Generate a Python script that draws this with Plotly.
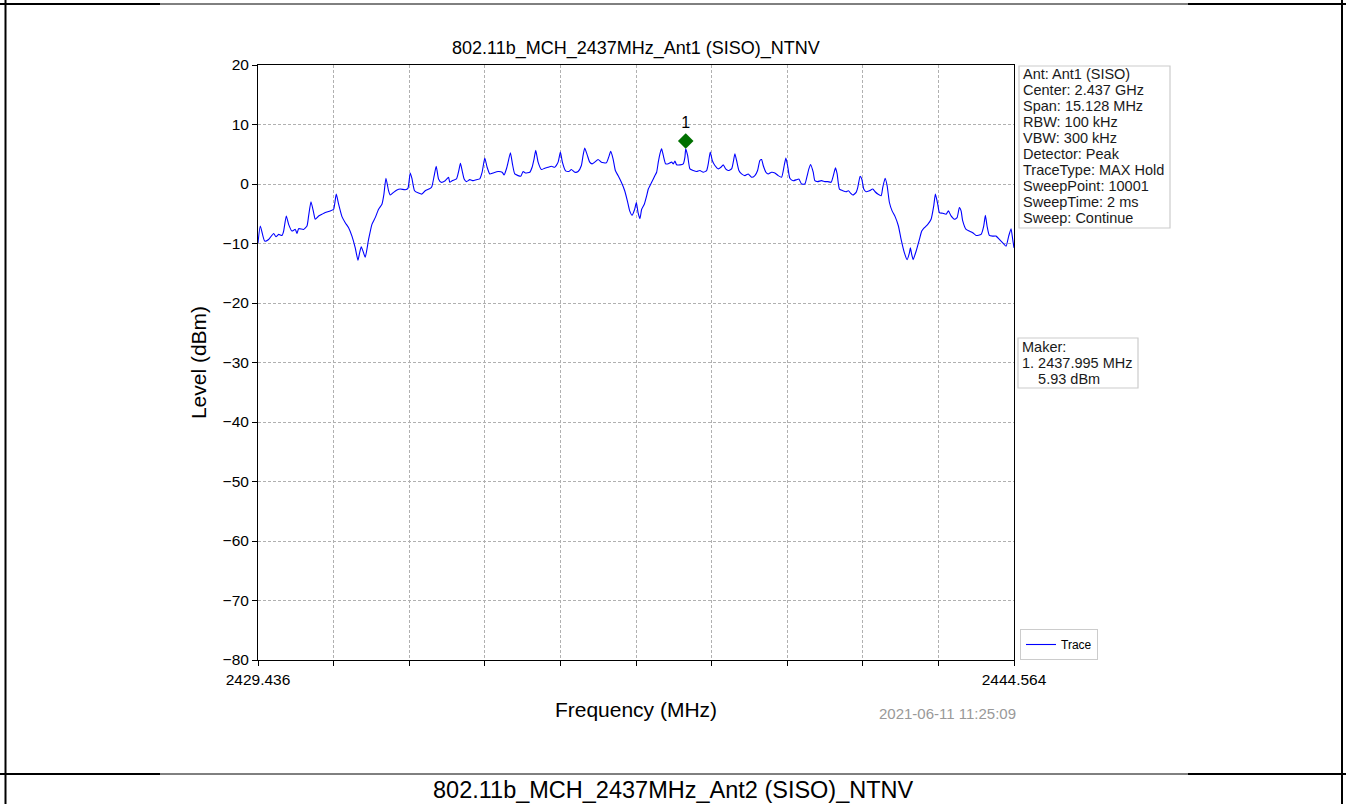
import plotly.graph_objects as go

# ---------------- data ----------------
freq_mhz = [
    2429.436, 2429.482, 2429.569, 2429.649, 2429.749, 2429.796, 2429.849, 2429.916, 2429.949, 2430.002,
    2430.049, 2430.116, 2430.182, 2430.216, 2430.249, 2430.349, 2430.416, 2430.449, 2430.496, 2430.549,
    2430.582, 2430.649, 2430.716, 2430.782, 2430.882, 2430.949, 2431.002, 2431.049, 2431.116, 2431.182,
    2431.249, 2431.316, 2431.382, 2431.436, 2431.469, 2431.502, 2431.549, 2431.582, 2431.649, 2431.716,
    2431.782, 2431.849, 2431.916, 2431.956, 2431.996, 2432.049, 2432.082, 2432.149, 2432.216, 2432.282,
    2432.382, 2432.436, 2432.482, 2432.516, 2432.569, 2432.649, 2432.716, 2432.782, 2432.882, 2432.916,
    2432.962, 2433.002, 2433.049, 2433.102, 2433.182, 2433.249, 2433.274, 2433.321, 2433.407, 2433.454,
    2433.487, 2433.521, 2433.561, 2433.607, 2433.674, 2433.741, 2433.807, 2433.874, 2433.921, 2433.974,
    2434.021, 2434.074, 2434.141, 2434.241, 2434.321, 2434.361, 2434.407, 2434.441, 2434.487, 2434.527,
    2434.574, 2434.641, 2434.694, 2434.741, 2434.787, 2434.874, 2434.921, 2434.961, 2434.994, 2435.041,
    2435.107, 2435.174, 2435.241, 2435.307, 2435.374, 2435.441, 2435.487, 2435.527, 2435.587, 2435.654,
    2435.707, 2435.774, 2435.841, 2435.907, 2435.941, 2435.974, 2436.027, 2436.074, 2436.121, 2436.174,
    2436.241, 2436.307, 2436.407, 2436.454, 2436.494, 2436.541, 2436.587, 2436.641, 2436.707, 2436.774,
    2436.827, 2436.874, 2436.921, 2436.974, 2437.007, 2437.041, 2437.079, 2437.113, 2437.166, 2437.213,
    2437.246, 2437.279, 2437.313, 2437.379, 2437.413, 2437.446, 2437.479, 2437.513, 2437.546, 2437.593,
    2437.646, 2437.713, 2437.746, 2437.779, 2437.813, 2437.879, 2437.946, 2437.979, 2437.995, 2438.033,
    2438.079, 2438.146, 2438.213, 2438.279, 2438.346, 2438.413, 2438.446, 2438.486, 2438.526, 2438.579,
    2438.646, 2438.699, 2438.746, 2438.793, 2438.846, 2438.913, 2438.946, 2438.979, 2439.013, 2439.059,
    2439.113, 2439.179, 2439.246, 2439.313, 2439.379, 2439.433, 2439.479, 2439.513, 2439.546, 2439.599,
    2439.646, 2439.713, 2439.779, 2439.846, 2439.913, 2439.966, 2439.999, 2440.033, 2440.079, 2440.146,
    2440.213, 2440.259, 2440.313, 2440.379, 2440.426, 2440.459, 2440.493, 2440.546, 2440.579, 2440.633,
    2440.713, 2440.779, 2440.838, 2440.905, 2440.958, 2440.991, 2441.025, 2441.071, 2441.138, 2441.205,
    2441.251, 2441.291, 2441.338, 2441.405, 2441.438, 2441.485, 2441.518, 2441.558, 2441.605, 2441.671,
    2441.738, 2441.785, 2441.838, 2441.905, 2441.938, 2441.985, 2442.025, 2442.071, 2442.125, 2442.185,
    2442.251, 2442.305, 2442.371, 2442.425, 2442.471, 2442.491, 2442.518, 2442.545, 2442.605, 2442.671,
    2442.718, 2442.771, 2442.838, 2442.905, 2442.958, 2442.991, 2443.038, 2443.071, 2443.138, 2443.205,
    2443.251, 2443.305, 2443.371, 2443.425, 2443.471, 2443.505, 2443.538, 2443.605, 2443.671, 2443.738,
    2443.805, 2443.905, 2443.958, 2443.991, 2444.025, 2444.071, 2444.138, 2444.205, 2444.271, 2444.338,
    2444.405, 2444.458, 2444.505, 2444.538, 2444.564,
]

level_dbm = [
    -9.90, -7.06, -9.60, -9.32, -8.31, -8.87, -8.47, -8.64, -7.91, -5.37,
    -6.78, -7.91, -7.63, -8.31, -7.51, -7.63, -7.06, -5.37, -2.99, -4.80,
    -5.93, -5.37, -5.08, -4.80, -4.52, -4.24, -1.69, -3.39, -5.48, -6.50,
    -7.34, -8.76, -10.73, -12.82, -11.58, -10.56, -11.58, -12.32, -9.32, -6.78,
    -5.65, -4.24, -3.39, -1.69, 0.96, -1.13, -1.86, -1.41, -1.02, -0.85,
    -0.96, -0.73, 1.86, 0.96, -1.13, -1.53, -1.69, -1.13, -0.73, -0.40,
    1.41, 2.99, 0.85, 0.28, 0.56, 1.13, 0.28, 0.56, 0.85, 2.26,
    3.50, 2.26, 0.85, 0.40, 0.73, 0.56, 0.73, 0.85, 1.98, 4.35,
    2.82, 1.69, 1.86, 2.09, 1.98, 1.53, 2.54, 3.67, 5.25, 3.39,
    1.69, 1.41, 1.30, 2.09, 1.86, 1.98, 2.82, 4.24, 5.65, 3.67,
    2.43, 2.66, 2.82, 2.99, 2.82, 3.67, 5.37, 3.67, 2.26, 2.09,
    2.43, 1.98, 2.09, 3.11, 4.80, 6.05, 4.80, 3.67, 3.39, 3.67,
    4.12, 3.67, 3.56, 4.52, 5.48, 4.24, 2.26, 1.41, 0.28, -1.13,
    -2.82, -4.52, -5.25, -4.24, -3.11, -4.80, -5.82, -4.24, -3.39, -1.98,
    -0.85, -0.28, 0.28, 1.41, 1.98, 3.67, 5.08, 5.93, 4.80, 3.39,
    3.39, 3.67, 3.39, 3.84, 3.22, 3.22, 3.39, 4.52, 5.93, 4.80,
    2.54, 2.26, 2.09, 2.26, 1.98, 2.26, 3.39, 5.37, 3.95, 3.11,
    2.54, 2.82, 3.22, 2.54, 2.26, 2.54, 3.67, 5.08, 3.95, 2.26,
    1.69, 1.41, 1.69, 1.13, 1.41, 2.26, 3.95, 4.12, 3.11, 1.98,
    1.69, 1.98, 1.86, 1.41, 1.13, 3.11, 4.35, 3.11, 0.96, 0.56,
    0.73, 0.85, 0.00, 0.00, 1.41, 2.54, 3.28, 1.98, 0.56, 0.40,
    0.56, 0.40, 0.40, 0.28, 1.69, 2.71, 1.69, -0.85, -1.13, -1.30,
    -1.13, -1.53, -1.86, -1.41, -0.56, 1.30, 0.85, -0.85, -1.30, -1.13,
    -0.85, -1.30, -1.69, -1.98, -0.56, 0.96, -0.28, -3.11, -4.52, -5.48,
    -7.06, -9.32, -11.58, -12.71, -11.58, -10.73, -11.86, -12.71, -11.30, -9.32,
    -7.91, -7.34, -6.78, -5.93, -3.67, -1.69, -3.39, -4.80, -4.92, -5.08,
    -4.52, -5.37, -5.93, -5.65, -3.95, -4.52, -6.21, -7.63, -7.91, -8.19,
    -8.64, -8.47, -7.06, -5.25, -7.06, -8.64, -8.76, -8.76, -9.32, -9.89,
    -10.45, -8.76, -7.51, -9.32, -10.73,
]

x_start, x_stop = 2429.436, 2444.564
x_divisions = 10
y_ticks = [20, 10, 0, -10, -20, -30, -40, -50, -60, -70, -80]
y_tick_labels = ["20", "10", "0", "\u221210", "\u221220", "\u221230", "\u221240",
                 "\u221250", "\u221260", "\u221270", "\u221280"]

marker_freq = [2437.995]
marker_level = [5.93]
marker_labels = ["1"]

title_text = "802.11b_MCH_2437MHz_Ant1 (SISO)_NTNV"
next_title_text = "802.11b_MCH_2437MHz_Ant2 (SISO)_NTNV"
info_lines = ["Ant: Ant1 (SISO)", "Center: 2.437 GHz", "Span: 15.128 MHz", "RBW: 100 kHz",
              "VBW: 300 kHz", "Detector: Peak", "TraceType: MAX Hold", "SweepPoint: 10001",
              "SweepTime: 2 ms", "Sweep: Continue"]
marker_lines = ["Maker:",
                "1. %.3f MHz" % marker_freq[0],
                "&nbsp;&nbsp;&nbsp;&nbsp;%.2f dBm" % marker_level[0]]
timestamp = "2021-06-11 11:25:09"

# ---------------- layout helpers ----------------
W, H = 1346, 804
L, R, T, B = 258, 1014, 65, 660   # plot area in pixels
FONT = "Arial, Liberation Sans, Helvetica, sans-serif"
MARKER_OFFSET_DB = 1.3            # diamond drawn slightly above the marker point


def px(xp):
    return (xp - L) / (R - L)


def py(yp):
    return (B - yp) / (B - T)


step = (x_stop - x_start) / x_divisions
x_tickvals = [x_start + i * step for i in range(x_divisions + 1)]
x_ticktext = [f"{x_start:.3f}"] + [""] * (x_divisions - 1) + [f"{x_stop:.3f}"]

fig = go.Figure()
fig.add_trace(go.Scatter(
    x=freq_mhz, y=level_dbm, mode="lines", name="Trace",
    line=dict(color="#0000ff", width=1.1, shape="spline", smoothing=0.5),
))
fig.add_trace(go.Scatter(
    x=marker_freq, y=[v + MARKER_OFFSET_DB for v in marker_level],
    mode="markers+text", text=marker_labels, textposition="top center",
    textfont=dict(size=16, color="black", family=FONT),
    marker=dict(symbol="diamond", size=12, color="#007000"),
    showlegend=False, cliponaxis=False,
))

fig.update_layout(
    width=W, height=H,
    margin=dict(l=L, r=W - R, t=T, b=H - B),
    paper_bgcolor="white", plot_bgcolor="white",
    font=dict(family=FONT, color="black", size=15),
    showlegend=True,
    legend=dict(x=px(1020), y=py(660), xanchor="left", yanchor="bottom",
                bordercolor="#cccccc", borderwidth=1, bgcolor="white",
                font=dict(size=12, family=FONT), itemwidth=30,
                tracegroupgap=0),
)

fig.update_xaxes(
    range=[x_start, x_stop], tickvals=x_tickvals, ticktext=x_ticktext,
    showline=True, mirror=True, linecolor="black", linewidth=1,
    ticks="outside", ticklen=5, tickcolor="black", tickwidth=1,
    showgrid=True, gridcolor="#b0b0b0", griddash="3px,2px", gridwidth=1,
    zeroline=False, tickfont=dict(size=15.5, family=FONT),
    title=dict(text="Frequency (MHz)", font=dict(size=21, family=FONT), standoff=15),
)
fig.update_yaxes(
    range=[-80, 20], tickvals=y_ticks, ticktext=y_tick_labels,
    showline=True, mirror=True, linecolor="black", linewidth=1,
    ticks="outside", ticklen=5, tickcolor="black", tickwidth=1,
    showgrid=True, gridcolor="#b0b0b0", griddash="3px,2px", gridwidth=1,
    zeroline=False, tickfont=dict(size=15.5, family=FONT),
    title=dict(text="Level (dBm)", font=dict(size=21, family=FONT), standoff=10),
)

annotations = [
    dict(text=title_text, x=0.5, y=py(48), xref="paper", yref="paper",
         showarrow=False, xanchor="center", yanchor="middle",
         font=dict(size=18, family=FONT, color="black")),
    dict(text=timestamp, x=px(947), y=py(713), xref="paper", yref="paper",
         showarrow=False, xanchor="center", yanchor="middle",
         font=dict(size=15, family=FONT, color="#999999")),
    dict(text=next_title_text, x=px(673), y=py(790), xref="paper", yref="paper",
         showarrow=False, xanchor="center", yanchor="middle",
         font=dict(size=23.5, family=FONT, color="black")),
]
for i, line in enumerate(info_lines):
    annotations.append(dict(text=line, x=px(1021), y=py(74 + 16 * i), xref="paper", yref="paper",
                            showarrow=False, xanchor="left", yanchor="middle", align="left",
                            font=dict(size=14.5, family=FONT, color="#1a1a1a")))
for i, line in enumerate(marker_lines):
    annotations.append(dict(text=line, x=px(1020), y=py(347 + 16 * i), xref="paper", yref="paper",
                            showarrow=False, xanchor="left", yanchor="middle", align="left",
                            font=dict(size=14.5, family=FONT, color="#1a1a1a")))
fig.update_layout(annotations=annotations)

shapes = []


def box(x0, y0, x1, y1):
    shapes.append(dict(type="rect", xref="paper", yref="paper", layer="below",
                       x0=px(x0), x1=px(x1), y0=py(y0), y1=py(y1),
                       line=dict(color="#cccccc", width=1.2), fillcolor="white"))


def hline(yp, x0, x1, w):
    shapes.append(dict(type="line", xref="paper", yref="paper",
                       x0=px(x0), x1=px(x1), y0=py(yp), y1=py(yp),
                       line=dict(color="black", width=w)))


def vline(xp, y0, y1, w):
    shapes.append(dict(type="line", xref="paper", yref="paper",
                       x0=px(xp), x1=px(xp), y0=py(y0), y1=py(y1),
                       line=dict(color="black", width=w)))


box(1019, 66, 1170, 228)
box(1018, 338, 1138, 388)
# document table borders around the chart picture
for yy in (4, 774):
    hline(yy, 0, 160, 2)
    hline(yy, 160, 1188, 1)
    hline(yy, 1188, W, 2)
vline(5.5, 0, H, 2)
vline(1342, 0, H, 2)
fig.update_layout(shapes=shapes)

fig.write_html("out.html", config={"displayModeBar": False},
               post_script="document.body.style.margin='0px';document.body.style.overflow='hidden';")
